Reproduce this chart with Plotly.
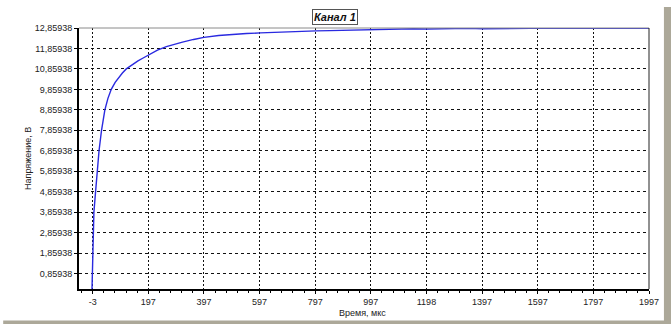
import plotly.graph_objects as go

# Data
time_us = [-6, -4.4, -3, -0.9, 1.6, 7.6, 13.4, 20, 29, 41, 52, 64, 78, 90, 104, 118, 140,
           160, 177, 200, 230, 262, 290, 320, 360, 397, 450, 500, 550, 600, 650, 700, 750,
           800, 850, 900, 950, 1000, 1050, 1100, 1150, 1200, 1250, 1300, 1350, 1400, 1450,
           1500, 1550, 1600, 1650, 1700, 1750, 1800, 1850, 1900, 1950, 1997]
voltage_v = [-0.3, 0.86, 1.86, 2.86, 3.86, 4.86, 5.86, 6.86, 7.86, 8.86, 9.42, 9.86, 10.2, 10.42,
             10.66, 10.86, 11.08, 11.25, 11.38, 11.56, 11.78, 11.95, 12.07, 12.17, 12.30, 12.40,
             12.49, 12.55, 12.59, 12.62, 12.65, 12.67, 12.70, 12.72, 12.73, 12.75, 12.77, 12.79,
             12.81, 12.80, 12.82, 12.81, 12.83, 12.82, 12.84, 12.82, 12.83, 12.85, 12.83, 12.84,
             12.86, 12.84, 12.85, 12.84, 12.86, 12.85, 12.84, 12.85]

x_tick_vals = [-3, 197, 397, 597, 797, 997, 1197, 1397, 1597, 1797, 1997]
x_tick_text = ["-3", "197", "397", "597", "797", "997", "1198", "1397", "1597", "1797", "1997"]
y_tick_vals = [0.85938, 1.85938, 2.85938, 3.85938, 4.85938, 5.85938, 6.85938, 7.85938,
               8.85938, 9.85938, 10.85938, 11.85938, 12.85938]
y_tick_text = [f"{v:.5f}".replace(".", ",") for v in y_tick_vals]

title_text = "Канал 1"
x_title = "Время, мкс"
y_title = "Напряжение, В"

FONT = "Liberation Sans, Arial, sans-serif"

fig = go.Figure()
fig.add_trace(go.Scatter(x=time_us, y=voltage_v, mode="lines",
                         line=dict(color="#2a2ae0", width=1.4), hoverinfo="skip"))

fig.update_layout(
    width=671, height=324,
    margin=dict(l=79, r=20, t=28, b=35),
    paper_bgcolor="white", plot_bgcolor="white",
    showlegend=False,
    font=dict(family=FONT, size=9, color="#222"),
)

fig.update_xaxes(
    range=[-52, 1997], tickvals=x_tick_vals, ticktext=x_tick_text,
    showline=True, linecolor="black", linewidth=2,
    ticks="outside", ticklen=3, tickcolor="black", tickwidth=1,
    showgrid=True, gridcolor="#111", gridwidth=1, griddash="2px,2px",
    zeroline=False,
    minor=dict(tickmode="linear", tick0=-3, dtick=40, ticks="outside", ticklen=2,
               tickcolor="black", showgrid=False),
    tickfont=dict(family=FONT, size=9, color="#222"),
)
fig.update_yaxes(
    range=[0.1, 12.85938], tickvals=y_tick_vals, ticktext=y_tick_text,
    showline=True, linecolor="black", linewidth=2,
    ticks="outside", ticklen=3, tickcolor="black", tickwidth=1,
    showgrid=True, gridcolor="#111", gridwidth=1, griddash="3px,3px",
    zeroline=False,
    tickfont=dict(family=FONT, size=9, color="#222"),
)

# Top (gray) and right (dark) border of the plot area
fig.add_shape(type="line", xref="paper", yref="paper", x0=0, x1=1, y0=1, y1=1,
              line=dict(color="#8a8a8a", width=1))
fig.add_shape(type="line", xref="paper", yref="paper", x0=1, x1=1, y0=0, y1=1,
              line=dict(color="#222", width=1))

# Window shadow on right and bottom
fig.add_shape(type="rect", xref="paper", yref="paper", x0=1.0262, x1=1.04, y0=-0.15, y1=1.08,
              line=dict(width=0), fillcolor="#aca899", layer="above")
fig.add_shape(type="rect", xref="paper", yref="paper", x0=-0.133, x1=1.04, y0=-0.15, y1=-0.1207,
              line=dict(width=0), fillcolor="#aca899", layer="above")

fig.add_annotation(text=f"<b><i>{title_text}</i></b>", xref="paper", yref="paper",
                   x=0.4493, y=1.044, showarrow=False, xanchor="center", yanchor="middle",
                   font=dict(family=FONT, size=11, color="#111"),
                   bordercolor="#555", borderwidth=1, borderpad=1, bgcolor="white")
fig.add_annotation(text=x_title, xref="paper", yref="paper", x=0.498, y=-0.092,
                   showarrow=False, xanchor="center", yanchor="middle",
                   font=dict(family=FONT, size=9, color="#222"))
fig.add_annotation(text=y_title, xref="paper", yref="paper", x=-0.0895, y=0.502,
                   showarrow=False, xanchor="center", yanchor="middle", textangle=-90,
                   font=dict(family=FONT, size=9, color="#222"))

fig.write_html("out.html")
